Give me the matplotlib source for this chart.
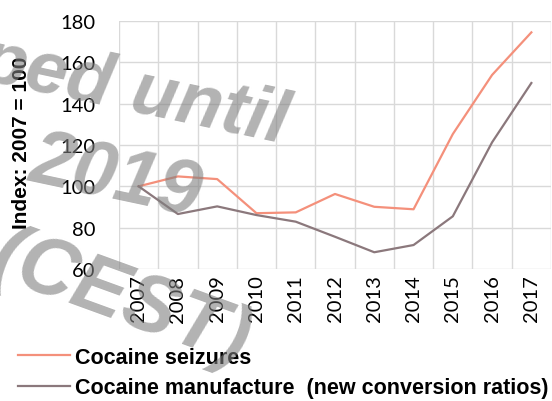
import matplotlib
matplotlib.use("Agg")
import matplotlib.pyplot as plt
from matplotlib.ticker import FixedLocator

years = ["2007", "2008", "2009", "2010", "2011", "2012", "2013", "2014", "2015", "2016", "2017"]
seizures = [100, 104.8, 103.5, 87, 87.4, 96.3, 90.1, 88.9, 125.3, 153.9, 174.5]
manufacture = [100, 86.6, 90.3, 86.1, 82.9, 75.6, 68.1, 71.6, 85.5, 121.3, 150]
series_names = ["Cocaine seizures", "Cocaine manufacture  (new conversion ratios)"]
y_ticks = [60, 80, 100, 120, 140, 160, 180]
y_label = "Index: 2007 = 100"

plt.rcParams['font.family'] = ['Lato', 'DejaVu Sans']
BOLD_FAMILY = ['Liberation Sans', 'DejaVu Sans']

fig = plt.figure(figsize=(5.52, 4.02), dpi=100)
ax = fig.add_axes([119/552, 1-270/402, (551-119)/552, (270-22)/402])

x = list(range(len(years)))
ax.plot(x, seizures, color='#F4907B', lw=1.6, label=series_names[0], zorder=3)
ax.plot(x, manufacture, color='#8B787C', lw=1.6, label=series_names[1], zorder=3)

ax.set_xlim(-0.5, len(years) - 0.5)
ax.set_ylim(60, 180)
ax.set_yticks(y_ticks)
ax.set_xticks(x)
ax.set_xticklabels(years, rotation=90, fontsize=14.5)
ax.xaxis.set_minor_locator(FixedLocator([i - 0.5 for i in range(len(years) + 1)]))
ax.tick_params(axis='y', labelsize=14.5, length=0, pad=17)
ax.tick_params(axis='x', which='both', length=0, pad=4)
ax.grid(True, axis='y', color='#D9D9D9', lw=1)
ax.grid(True, axis='x', which='minor', color='#D9D9D9', lw=1)
ax.grid(False, axis='x', which='major')
for s in ax.spines.values():
    s.set_visible(False)
ax.set_axisbelow(True)

fig.text(22/552, 1-143/402, y_label, rotation=90, ha='center', va='center',
         fontsize=15, fontweight='bold', family=BOLD_FAMILY)

leg = fig.legend(loc='upper left', bbox_to_anchor=(9.5/552, 1-339/402), frameon=False,
                 prop={'weight': 'bold', 'size': 15.5, 'family': BOLD_FAMILY}, handlelength=2.4,
                 handletextpad=0.23, labelspacing=0.45, borderaxespad=0)

wm = dict(color='#808080', alpha=0.6, fontweight='bold', fontstyle='italic',
          family=BOLD_FAMILY, ha='center', va='center', zorder=10)
fig.text(135/552, 1-92/402, "ped until", fontsize=54, rotation=-12, **wm)
fig.text(115/552, 1-178/402, "2019", fontsize=56, rotation=-12, **wm)
fig.text(120/552, 1-300/402, "(CEST)", fontsize=58, rotation=-20, **wm)

fig.savefig("out.png", dpi=100)
